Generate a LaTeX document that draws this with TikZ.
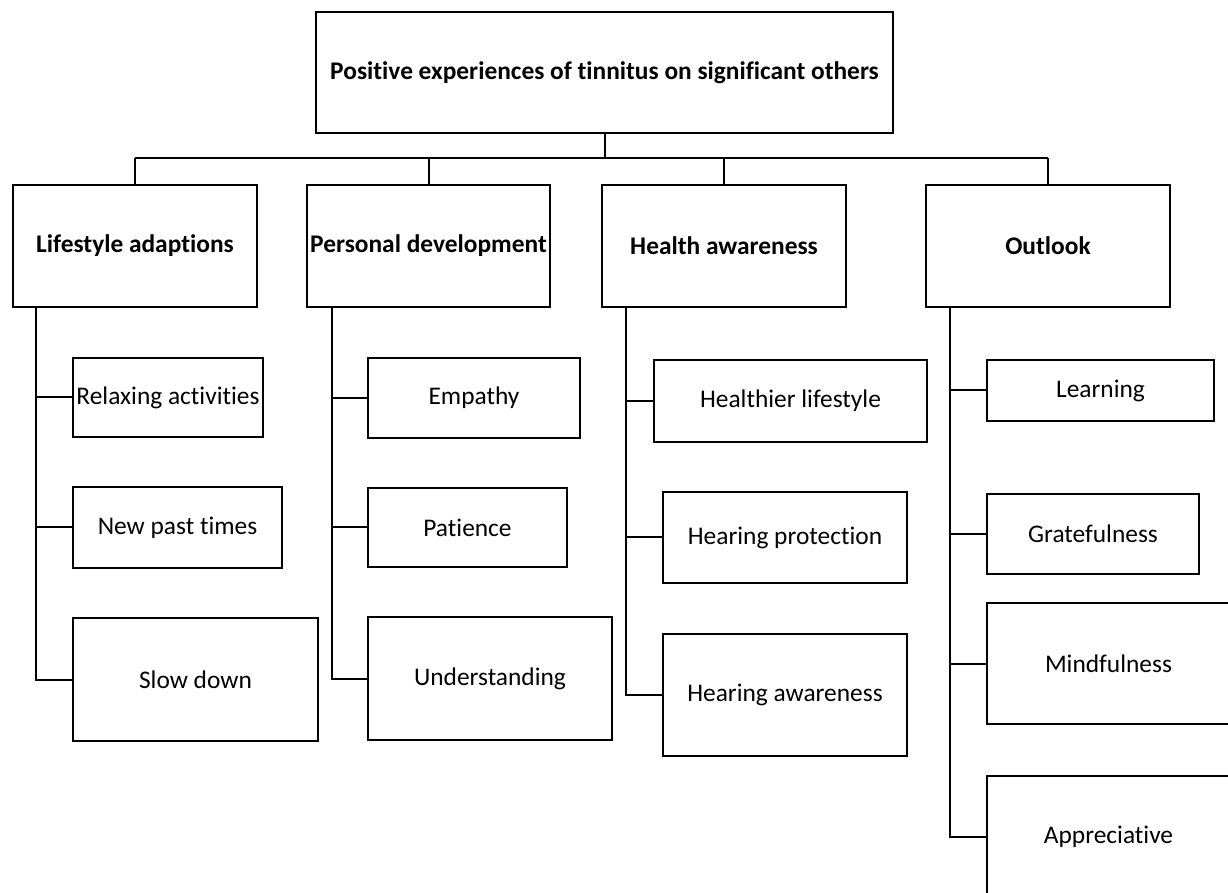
\documentclass[tikz,border=0pt]{standalone}
\usepackage{fontspec}
\setmainfont{Carlito}[Ligatures=NoCommon]
\tikzset{
    box/.style={draw, line width=1pt, inner sep=0pt, align=center, font=\fontsize{12.7}{15}\selectfont},
    head/.style={box, font=\fontsize{12.7}{15}\selectfont\bfseries},
    link/.style={line width=1pt}
}
\begin{document}
\begin{tikzpicture}[x=0.5pt,y=-0.5pt]
        \clip (0,0) rectangle (1228,893);

        \node[head, minimum width=288.5pt, minimum height=60.5pt] (top) at (604.5,72.5) {Positive experiences of tinnitus on significant others};
        \coordinate (bar) at (604,158);

        \node[head, minimum width=122pt, minimum height=61pt] (life) at (135,246) {Lifestyle adaptions};
        \node[head, minimum width=121.5pt, minimum height=61pt] (pers) at (428.5,246) {Personal development};
        \node[head, minimum width=122pt, minimum height=61pt] (heal) at (724,246) {Health awareness};
        \node[head, minimum width=122pt, minimum height=61pt] (outl) at (1048,246) {Outlook};

        \node[box, minimum width=95pt, minimum height=39.5pt] (relax) at (168,397.5) {Relaxing activities};
        \node[box, minimum width=104.5pt, minimum height=40.5pt] (past) at (177.5,527.5) {New past times};
        \node[box, minimum width=122.5pt, minimum height=61.5pt] (slow) at (195.5,679.5) {Slow down};

        \node[box, minimum width=106pt, minimum height=40pt] (empa) at (474,398) {Empathy};
        \node[box, minimum width=99.5pt, minimum height=39.5pt] (pati) at (467.5,527.5) {Patience};
        \node[box, minimum width=122pt, minimum height=61.5pt] (unde) at (490,678.5) {Understanding};

        \node[box, minimum width=136.5pt, minimum height=41pt] (hlife) at (790.5,401) {Healthier lifestyle};
        \node[box, minimum width=122pt, minimum height=45.5pt] (hprot) at (785,537.5) {Hearing protection};
        \node[box, minimum width=122pt, minimum height=61pt] (hawar) at (785,695) {Hearing awareness};

        \node[box, minimum width=113.5pt, minimum height=30.5pt] (lear) at (1100.5,390.5) {Learning};
        \node[box, minimum width=106pt, minimum height=40pt] (grat) at (1093,534) {Gratefulness};
        \node[box, minimum width=121.5pt, minimum height=60.5pt] (mind) at (1108.5,663.5) {Mindfulness};
        \node[box, minimum width=121.5pt, minimum height=61pt] (appr) at (1108.5,837) {Appreciative};

        \draw[link] (top.south) -- (top.south |- bar);
        \draw[link] (life.north |- bar) -- (outl.north |- bar);
        \foreach \n in {life,pers,heal,outl}
            \draw[link] (\n.north |- bar) -- (\n.north);

        \foreach \n in {relax,past,slow}
            \draw[link] ([xshift=12pt]life.south west) |- (\n.west);
        \foreach \n in {empa,pati,unde}
            \draw[link] ([xshift=13pt]pers.south west) |- (\n.west);
        \foreach \n in {hlife,hprot,hawar}
            \draw[link] ([xshift=12.5pt]heal.south west) |- (\n.west);
        \foreach \n in {lear,grat,mind,appr}
            \draw[link] ([xshift=12.5pt]outl.south west) |- (\n.west);
    \end{tikzpicture}
\end{document}
